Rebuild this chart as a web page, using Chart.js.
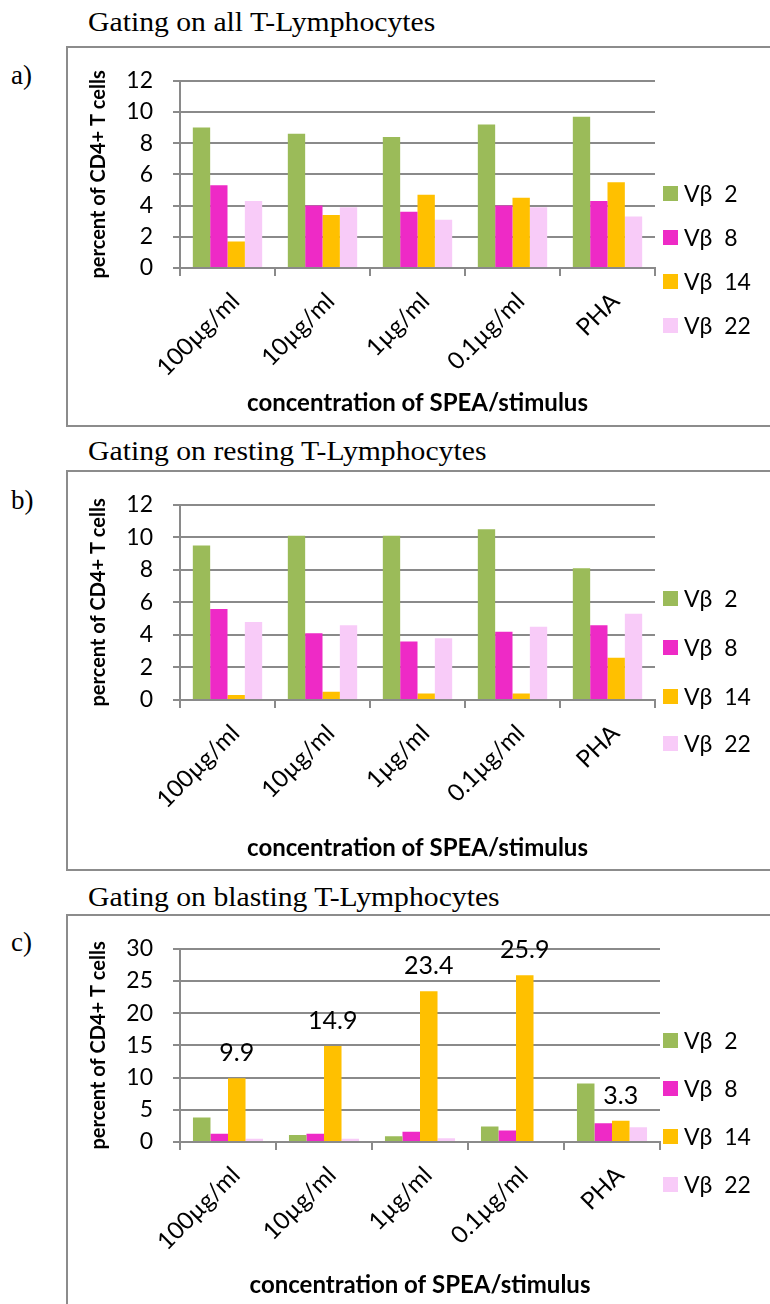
<!DOCTYPE html>
<html>
<head>
<meta charset="utf-8">
<script src="https://cdn.jsdelivr.net/npm/chart.js@4.4.0/dist/chart.umd.min.js"></script>
<style>
body { margin:0; width:770px; height:1304px; overflow:hidden; background:#fff; position:relative; font-family:Lato, sans-serif; }
.frame { position:absolute; border:2px solid #8c8c8c; box-sizing:border-box; }
.titulo { position:absolute; font-family:"Liberation Serif", serif; font-size:27px; line-height:30px; white-space:nowrap; transform-origin:left center; transform:scaleX(1.1); }
.letra { position:absolute; font-family:"Liberation Serif", serif; font-size:27px; line-height:30px; }
canvas { position:absolute; }
.caja { position:absolute; width:15px; height:15px; }
.ley { position:absolute; font-size:23px; line-height:24px; white-space:pre; color:#000; }
</style>
</head>
<body>
<div class="titulo" style="left:88px; top:7px;">Gating on all T-Lymphocytes</div>
<div class="letra" style="left:11px; top:60px;">a)</div>
<div class="frame" style="left:66px; top:46px; width:740px; height:381px;"></div>
<canvas id="graficoA" width="703" height="379" style="left:67px; top:47px;"></canvas>

<div class="titulo" style="left:88px; top:436px;">Gating on resting T-Lymphocytes</div>
<div class="letra" style="left:11px; top:485px;">b)</div>
<div class="frame" style="left:66px; top:470px; width:740px; height:401px;"></div>
<canvas id="graficoB" width="703" height="399" style="left:67px; top:471px;"></canvas>

<div class="titulo" style="left:88px; top:882px;">Gating on blasting T-Lymphocytes</div>
<div class="letra" style="left:11px; top:927px;">c)</div>
<div class="frame" style="left:66px; top:914px; width:740px; height:420px;"></div>
<canvas id="graficoC" width="703" height="389" style="left:67px; top:915px;"></canvas>

<script>
// Datos
const categorias = ['100µg/ml', '10µg/ml', '1µg/ml', '0.1µg/ml', 'PHA'];
const series = ['Vβ  2', 'Vβ  8', 'Vβ  14', 'Vβ  22'];
const colores = ['#9BBB59', '#EE2AC6', '#FFC000', '#F8CBF8'];

// a) todos los linfocitos T
const todosVb2 = [9.0, 8.6, 8.4, 9.2, 9.7];
const todosVb8 = [5.3, 4.0, 3.6, 4.0, 4.3];
const todosVb14 = [1.7, 3.4, 4.7, 4.5, 5.5];
const todosVb22 = [4.3, 3.9, 3.1, 3.9, 3.3];

// b) linfocitos T en reposo
const reposoVb2 = [9.5, 10.1, 10.1, 10.5, 8.1];
const reposoVb8 = [5.6, 4.1, 3.6, 4.2, 4.6];
const reposoVb14 = [0.3, 0.5, 0.4, 0.4, 2.6];
const reposoVb22 = [4.8, 4.6, 3.8, 4.5, 5.3];

// c) linfocitos T blásticos
const blastosVb2 = [3.8, 1.1, 0.9, 2.4, 9.1];
const blastosVb8 = [1.3, 1.3, 1.6, 1.8, 2.9];
const blastosVb14 = [9.9, 14.9, 23.4, 25.9, 3.3];
const blastosVb22 = [0.5, 0.5, 0.6, 0, 2.3];

const ticksDoce = [0, 2, 4, 6, 8, 10, 12];
const ticksTreinta = [0, 5, 10, 15, 20, 25, 30];

Chart.defaults.font.family = 'Lato, sans-serif';
Chart.defaults.color = '#000';

const gris = '#8a8a8a';

// Etiquetas de valor encima de las barras Vβ 14 (solo panel c)
const etiquetasValor = {
    id: 'etiquetasValor',
    afterDatasetsDraw(chart) {
        const meta = chart.getDatasetMeta(2);
        const ctx = chart.ctx;
        ctx.save();
        ctx.font = '25px Lato, sans-serif';
        ctx.fillStyle = '#000';
        ctx.textAlign = 'center';
        ctx.textBaseline = 'middle';
        meta.data.forEach(function(bar, i) {
            ctx.fillText(chart.data.datasets[2].data[i].toFixed(1), bar.x, bar.y - 25);
        });
        ctx.restore();
    }
};

function crearGrafico(id, datos, ejeY, cfg) {
    const ctx = document.getElementById(id).getContext('2d');
    return new Chart(ctx, {
        type: 'bar',
        data: {
            labels: categorias,
            datasets: series.map(function(s, i) {
                return {
                    label: s,
                    data: datos[i],
                    backgroundColor: colores[i],
                    borderWidth: 0,
                    categoryPercentage: 0.73,
                    barPercentage: 1.0
                };
            })
        },
        options: {
            responsive: false,
            animation: false,
            devicePixelRatio: 1,
            layout: { padding: { top: cfg.arriba, right: cfg.derecha, left: 0, bottom: 0 } },
            plugins: { legend: { display: false }, tooltip: { enabled: false } },
            scales: {
                x: {
                    afterFit: function(scale) { scale.height = cfg.altoX; },
                    grid: { drawOnChartArea: false, offset: true, tickLength: 8, color: gris, lineWidth: 2 },
                    border: { display: true, color: gris, width: 2 },
                    ticks: { minRotation: 45, maxRotation: 45, padding: 11, labelOffset: 8, font: { size: 24 } },
                    title: {
                        display: true,
                        text: 'concentration of SPEA/stimulus',
                        font: { size: 24, weight: 'bold' },
                        padding: { top: 0, bottom: cfg.tituloX }
                    }
                },
                y: {
                    min: 0,
                    max: ejeY[ejeY.length - 1],
                    afterFit: function(scale) { scale.width = 113; },
                    afterBuildTicks: function(scale) {
                        scale.ticks = ejeY.map(function(v) { return { value: v }; });
                    },
                    grid: { color: gris, lineWidth: 2, tickLength: 7 },
                    border: { display: true, color: gris, width: 2 },
                    ticks: { padding: 20, font: { size: 23 } },
                    title: {
                        display: true,
                        text: 'percent of CD4+ T cells',
                        font: { size: 20, weight: 'bold' },
                        padding: { top: 20, bottom: 0 }
                    }
                }
            }
        },
        plugins: cfg.plugins || []
    });
}

crearGrafico('graficoA', [todosVb2, todosVb8, todosVb14, todosVb22], ticksDoce,
    { arriba: 16, derecha: 115, altoX: 158, tituloX: 8 });
crearGrafico('graficoB', [reposoVb2, reposoVb8, reposoVb14, reposoVb22], ticksDoce,
    { arriba: 18, derecha: 115, altoX: 170, tituloX: 7 });
crearGrafico('graficoC', [blastosVb2, blastosVb8, blastosVb14, blastosVb22], ticksTreinta,
    { arriba: 18, derecha: 110, altoX: 162, tituloX: 4, plugins: [etiquetasValor] });

// Leyendas (a la derecha de cada panel)
function crearLeyenda(centros) {
    centros.forEach(function(cy, i) {
        const caja = document.createElement('div');
        caja.className = 'caja';
        caja.style.left = '663px';
        caja.style.top = (cy - 7) + 'px';
        caja.style.background = colores[i];
        document.body.appendChild(caja);
        const txt = document.createElement('div');
        txt.className = 'ley';
        txt.style.left = '684px';
        txt.style.top = (cy - 12) + 'px';
        txt.textContent = series[i];
        document.body.appendChild(txt);
    });
}
crearLeyenda([193, 237, 281, 325]);
crearLeyenda([598, 647, 696, 743]);
crearLeyenda([1040, 1088, 1136, 1184]);
</script>
</body>
</html>
